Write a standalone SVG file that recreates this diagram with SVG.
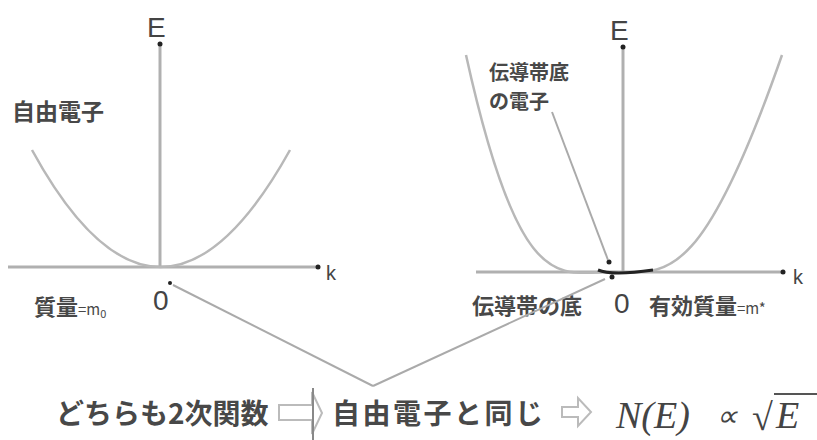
<svg xmlns="http://www.w3.org/2000/svg" width="817" height="440" viewBox="0 0 817 440">
<style>
.jp{font-family:"Noto Sans CJK JP","Noto Sans",sans-serif;font-weight:bold;fill:#484848}
.lat{font-family:"Liberation Sans",Arial,sans-serif;fill:#444}
.math{font-family:"Liberation Serif","Times New Roman",serif;font-style:italic;fill:#444}
.axis{stroke:#b0b0b0;stroke-width:3;fill:none}
.curve{stroke:#b8b8b8;stroke-width:2.5;fill:none}
.link{stroke:#aaa;stroke-width:2;fill:none}
.dot{fill:#222}
.harrow{fill:none;stroke:#bbb;stroke-width:2}
</style>
<rect width="817" height="440" fill="#fff"/>

<g id="left-plot">
  <line class="axis" x1="160" y1="45" x2="160" y2="268"/>
  <line class="axis" x1="8" y1="267" x2="318" y2="267"/>
  <circle class="dot" cx="160" cy="44" r="2.5"/>
  <circle class="dot" cx="318" cy="267" r="2.5"/>
  <path class="curve" d="M32,150 Q160,384 290,150"/>
  <text class="lat" x="147" y="37" font-size="28">E</text>
  <text class="lat" x="326" y="280" font-size="20">k</text>
  <text class="lat" x="153" y="310" font-size="28">0</text>
  <circle class="dot" cx="170" cy="283" r="2"/>
  <text class="jp" x="12" y="120" font-size="23">自由電子</text>
  <text class="jp" x="34" y="315" font-size="22">質量<tspan font-size="15" font-weight="normal">=m<tspan font-size="11" dy="3">0</tspan></tspan></text>
</g>

<g id="right-plot">
  <line class="axis" x1="623" y1="48" x2="623" y2="272"/>
  <line class="axis" x1="476" y1="272" x2="783" y2="272"/>
  <circle class="dot" cx="623" cy="47" r="2.5"/>
  <circle class="dot" cx="783" cy="272" r="2.5"/>
  <path class="curve" d="M466,55 C520,300 560,272 612,272 C665,272 700,290 782,55"/>
  <path d="M598,270 Q612,276 653,270" stroke="#222" stroke-width="3" fill="none"/>
  <circle class="dot" cx="609" cy="262" r="2.5"/>
  <circle class="dot" cx="612" cy="277" r="2.5"/>
  <text class="lat" x="610" y="40" font-size="28">E</text>
  <text class="lat" x="793" y="284" font-size="20">k</text>
  <text class="lat" x="614" y="313" font-size="28">0</text>
  <text class="jp" x="489" y="80" font-size="20">伝導帯底</text>
  <text class="jp" x="489" y="109" font-size="20">の電子</text>
  <line class="link" x1="552" y1="112" x2="608" y2="260"/>
  <text class="jp" x="472" y="314" font-size="22">伝導帯の底</text>
  <text class="jp" x="649" y="314" font-size="22">有効質量<tspan font-size="15" font-weight="normal">=m*</tspan></text>
</g>

<g id="connectors">
  <line class="link" x1="173" y1="285" x2="373" y2="386"/>
  <line class="link" x1="605" y1="279" x2="373" y2="386"/>
</g>

<g id="summary">
  <text class="jp" x="56" y="424" font-size="28">どちらも2次関数</text>
  <path class="harrow" d="M279,405 H312 V392 L322,413 L312,434 V420 H279 Z"/>
  <line stroke="#888" stroke-width="2" x1="313" y1="388" x2="313" y2="440"/>
  <text class="jp" x="332" y="424" font-size="28" letter-spacing="2.5">自由電子と同じ</text>
  <path class="harrow" d="M562,407 H578 V398 L591,412 L578,426 V417 H562 Z"/>
  <text class="math" x="616" y="428" font-size="38">N(E)</text>
  <text class="math" x="716" y="426" font-size="30" font-style="normal">∝</text>
  <text class="math" x="752" y="430" font-size="38" font-style="normal">√</text>
  <line stroke="#555" stroke-width="2" x1="774" y1="394" x2="817" y2="394"/>
  <text class="math" x="776" y="428" font-size="38">E</text>
</g>
</svg>
